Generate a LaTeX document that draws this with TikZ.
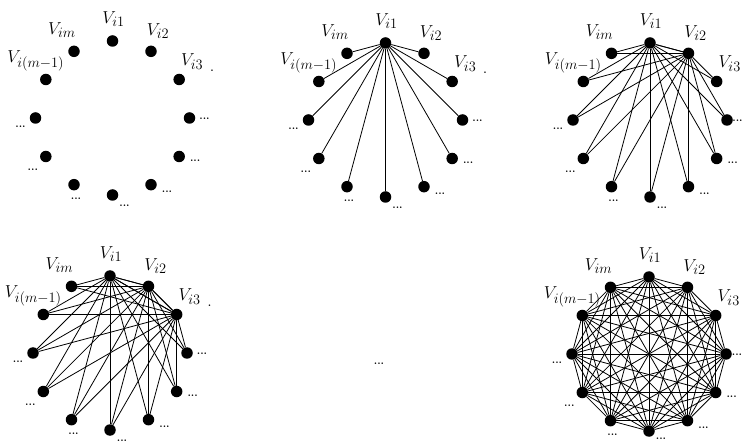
\documentclass[tikz,border=0pt]{standalone}
\usetikzlibrary{backgrounds}
\tikzset{
  vtx/.style={circle,fill=black,draw=none,minimum size=11.5pt,inner sep=0pt},
  lbl/.style={font=\fontsize{19}{21}\selectfont,inner sep=0pt},
  dotlbl/.style={font=\fontsize{11}{11}\selectfont\bfseries,inner sep=0pt},
  edge/.style={line width=0.8pt,black}
}
% #1 name, #2 cx, #3 cy, #4 x offset of right dots, #5 y offset of bottom dots
\newcommand{\ringgraph}[5]{%
  \foreach \k in {0,...,11}{
    \node[vtx] (#1-\k) at ({#2+77*cos(90-30*\k)},{#3-77*sin(90-30*\k)}) {};
  }
  \node[lbl] (#1-L0) at ([shift={(1,-22)}]#1-0.center) {$V_{i1}$};
  \node[lbl] (#1-L1) at ([shift={(7,-20)}]#1-1.center) {$V_{i2}$};
  \node[lbl] (#1-L2) at ([shift={(13,-18)}]#1-2.center) {$V_{i3}$};
  \node[lbl] (#1-L11) at ([shift={(-12,-21)}]#1-11.center) {$V_{im}$};
  \node[lbl] (#1-L10) at ([shift={(-10,-19)}]#1-10.center) {$V_{i(m-1)}$};
  \node[dotlbl] (#1-D3) at ([shift={(#4,1)}]#1-3.center) {...};
  \node[dotlbl] (#1-D4) at ([shift={(16,4)}]#1-4.center) {...};
  \node[dotlbl] (#1-D5) at ([shift={(16,7)}]#1-5.center) {...};
  \node[dotlbl] (#1-D6) at ([shift={(12,#5)}]#1-6.center) {...};
  \node[dotlbl] (#1-D7) at ([shift={(2,14)}]#1-7.center) {...};
  \node[dotlbl] (#1-D8) at ([shift={(-13,13)}]#1-8.center) {...};
  \node[dotlbl] (#1-D9) at ([shift={(-15,9)}]#1-9.center) {...};
}
\newcommand{\periodmark}[1]{%
  \node[dotlbl] (#1-P) at ([shift={(33,-9)}]#1-2.center) {.};
}
\newcommand{\hubedges}[2]{%
  \begin{scope}[on background layer]
    \foreach \i in {#2}{
      \foreach \j in {0,...,11}{
        \ifnum\i=\j\relax\else\draw[edge] (#1-\i) -- (#1-\j);\fi
      }
    }
  \end{scope}
}
\newcommand{\alledges}[1]{%
  \begin{scope}[on background layer]
    \foreach \i in {0,...,10}{
      \pgfmathtruncatemacro{\nxt}{\i+1}
      \foreach \j in {\nxt,...,11}{
        \draw[edge] (#1-\i) -- (#1-\j);
      }
    }
  \end{scope}
}
\begin{document}
\begin{tikzpicture}[x=1pt,y=-1pt]
  \useasboundingbox (0,0) rectangle (744,443);
  \clip (0,0) rectangle (744,443);
  % graph 1: no edges
  \ringgraph{a}{112.5}{118}{15}{11}
  \periodmark{a}
  % graph 2: star from V_i1
  \ringgraph{b}{385.5}{120}{15}{11}
  \periodmark{b}
  \hubedges{b}{0}
  % graph 3: V_i1 and V_i2
  \ringgraph{c}{650}{120}{10.5}{11}
  \hubedges{c}{0,1}
  % graph 4: V_i1, V_i2, V_i3
  \ringgraph{d}{110}{353}{15}{11}
  \periodmark{d}
  \hubedges{d}{0,1,2}
  % middle ellipsis
  \node[dotlbl] (mid) at (379,364) {...};
  % graph 5: complete
  \ringgraph{e}{649}{354}{11}{7.5}
  \alledges{e}
\end{tikzpicture}
\end{document}
